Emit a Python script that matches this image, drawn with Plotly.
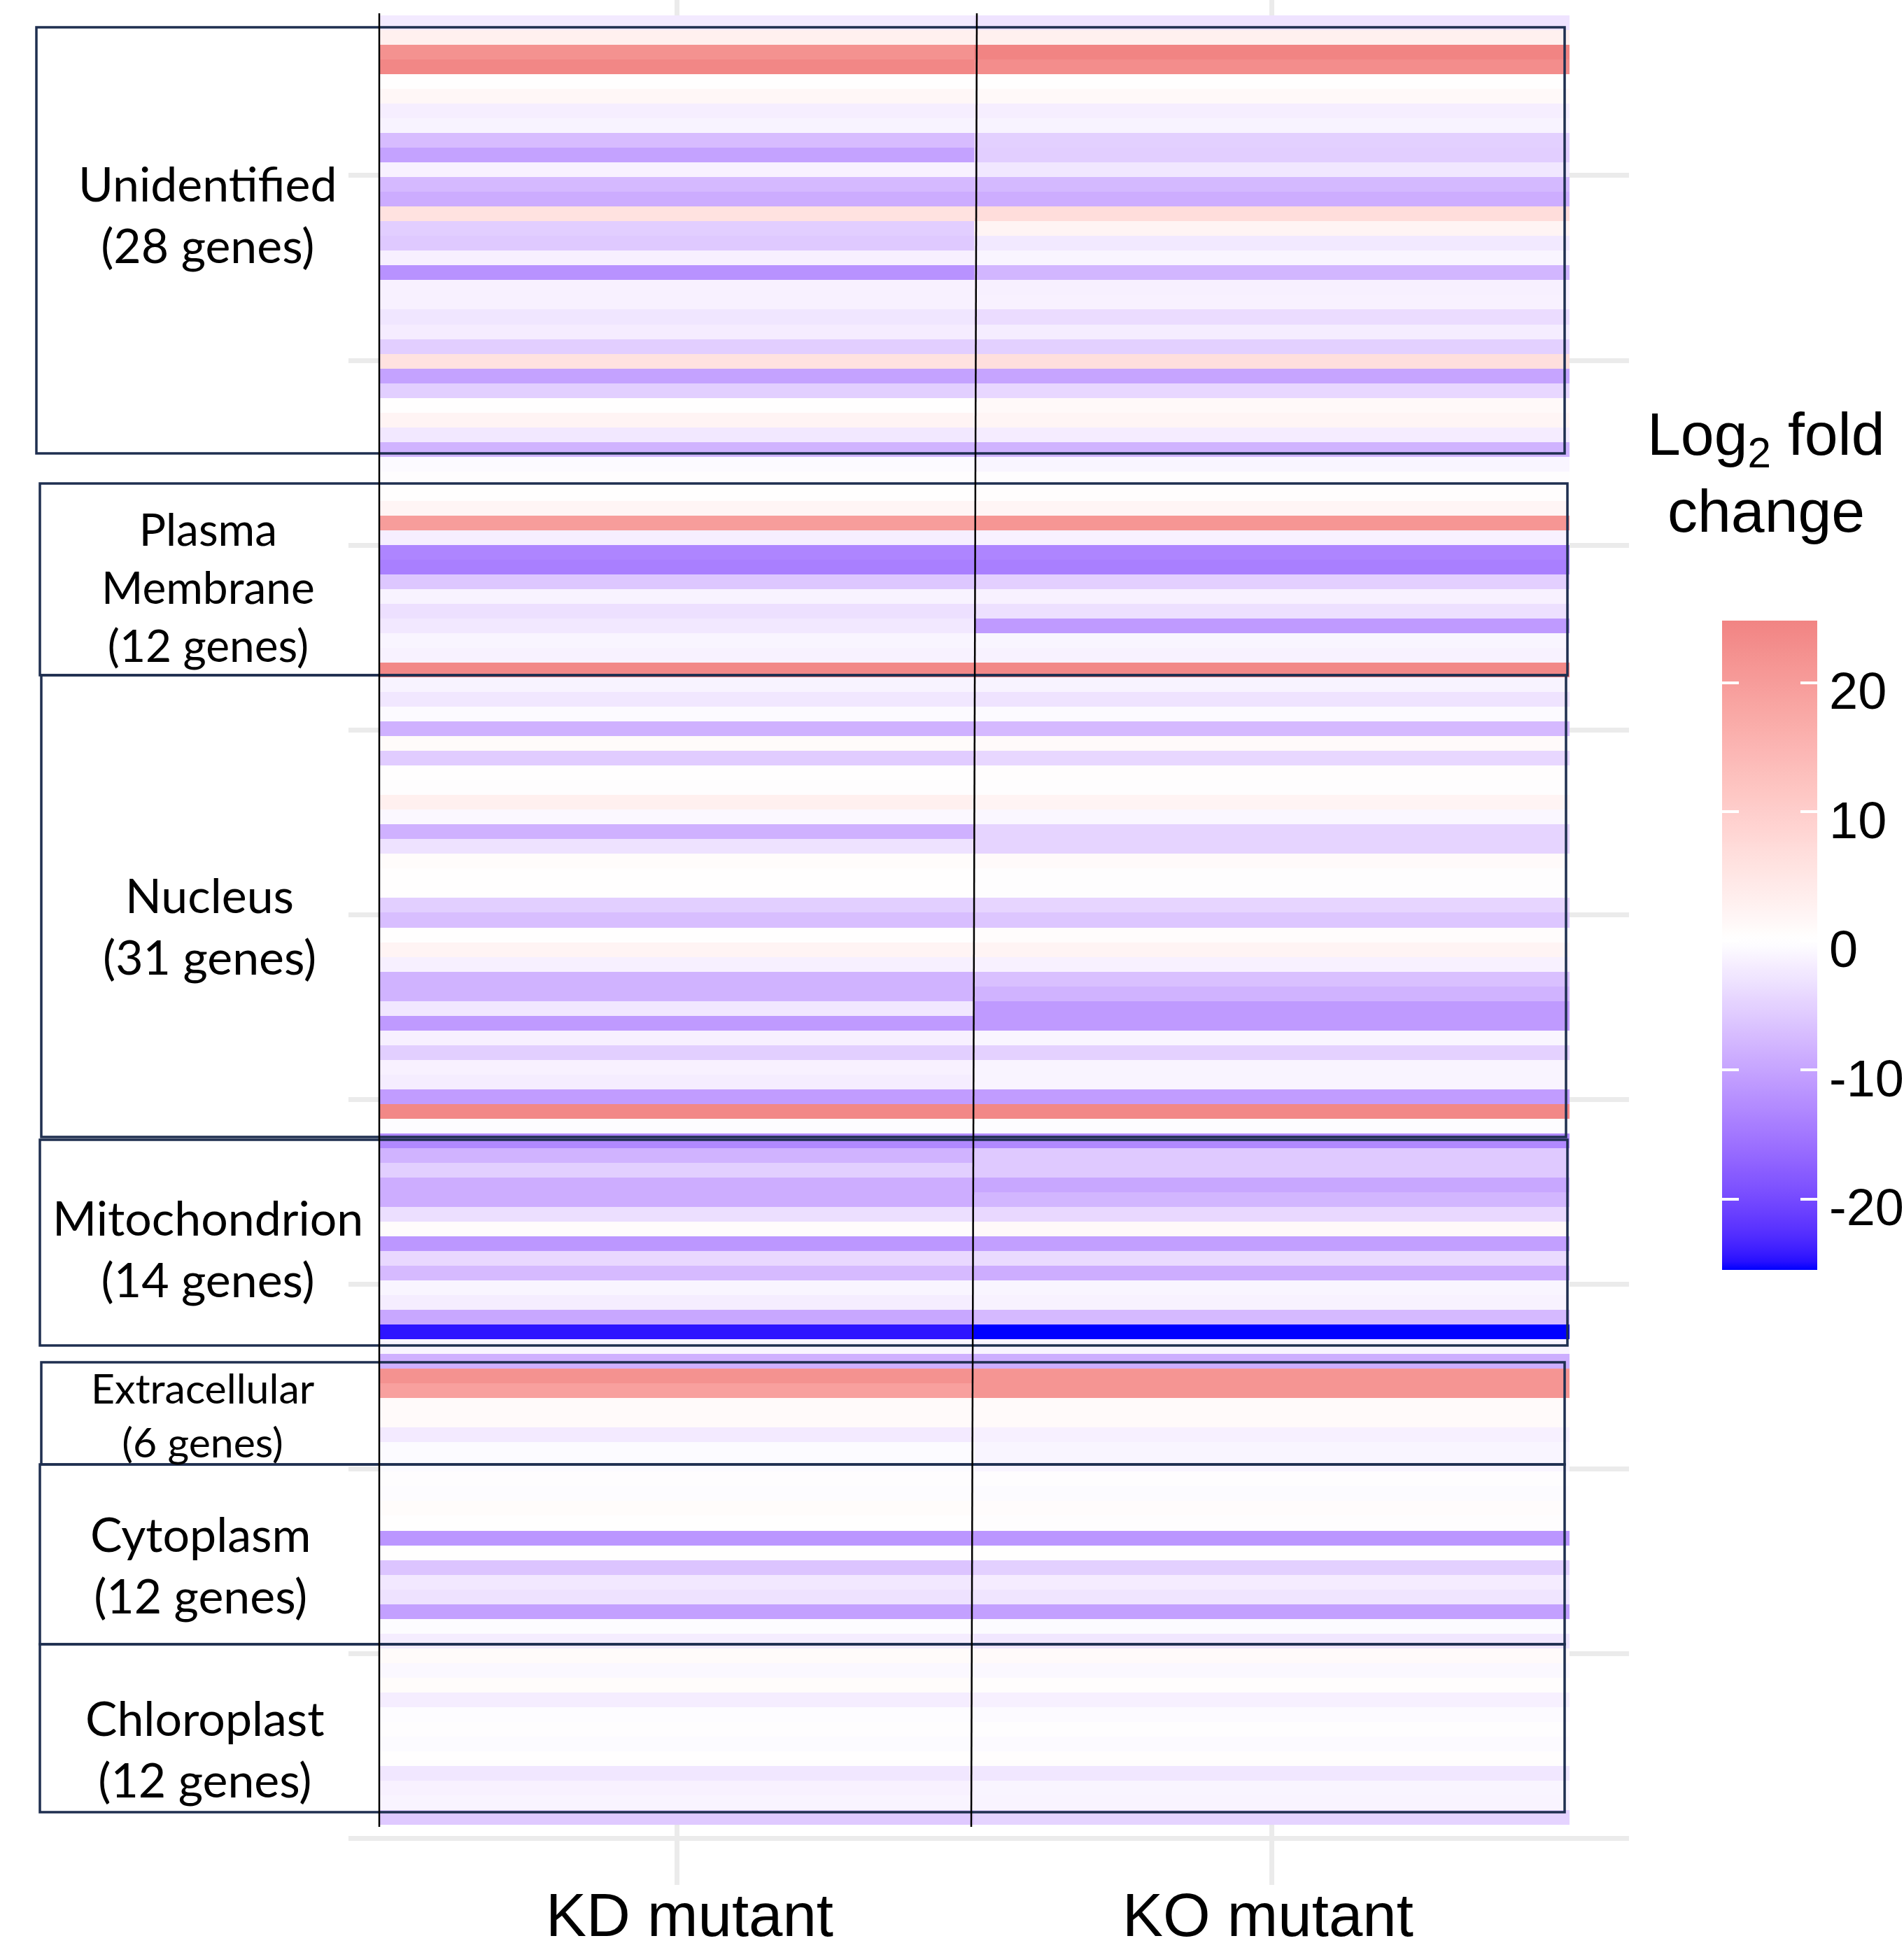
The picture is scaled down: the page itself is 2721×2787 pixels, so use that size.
import numpy as np
import plotly.graph_objects as go

# ---------------- data ----------------
conditions = ["KD mutant", "KO mutant"]

# log2 fold change per gene row (top to bottom of the heatmap)
kd_log2fc = [
    -2.2, 3.0, 22.0, 24.2, 0.3, 1.5, -1.8, -1.3, -7.3, -10.2,
    -1.5, -7.6, -9.0, 5.9, -5.4, -5.9, -1.6, -12.0, -1.5, -1.5,
    -2.8, -2.0, -5.4, 5.9, -10.2, -5.3, 0.3, 2.2, -2.5, -8.3,
    -0.6, 0.0, 0.3, 2.0, 19.8, -1.8, -13.4, -14.1, -6.1, -1.3,
    -3.4, -2.5, -1.1, -1.4, 24.0, -1.3, -2.6, -0.6, -8.5, 0.9,
    -5.6, 0.3, 0.1, 3.0, -0.8, -8.5, -3.2, 0.8, 0.2, 0.2,
    -5.3, -7.1, 0.3, 2.1, -1.6, -8.3, -8.3, -2.6, -11.1, -1.6,
    -5.3, -1.5, -1.9, -10.8, 24.0, -0.3, -13.0, -8.3, -5.3, -8.9,
    -8.9, -3.5, 0.6, -11.4, -4.2, -7.5, -1.1, -1.9, -9.6, -24.6,
    -1.1, -8.6, 22.0, 19.1, 1.0, 1.0, -2.2, -0.5, -0.5, 0.0,
    -0.4, 0.8, 0.2, -11.6, 0.3, -6.4, -2.5, -3.2, -10.4, -0.4,
    -1.9, 0.9, -0.8, 0.7, -1.9, -0.3, 0.1, -0.5, 0.2, -2.6,
    -1.5, -1.2, -5.9,
]
ko_log2fc = [
    -3.1, 3.0, 24.8, 23.0, 0.2, 1.2, -1.8, -1.3, -5.1, -5.4,
    -2.6, -7.7, -8.9, 7.0, 2.2, -2.4, -1.1, -8.0, -1.6, -1.5,
    -3.8, -1.9, -5.1, 6.6, -10.0, -4.3, 1.2, 2.0, -2.0, -8.3,
    -1.1, 0.0, 0.5, 2.0, 21.2, -1.5, -13.4, -14.1, -5.2, -1.5,
    -3.4, -11.1, -1.1, -1.4, 24.0, -1.3, -3.1, -0.6, -7.6, 1.0,
    -4.3, 0.5, 0.0, 2.2, -0.9, -4.6, -4.6, 1.0, 0.1, 0.1,
    -4.5, -6.2, 0.6, 2.2, -1.5, -6.8, -8.3, -11.1, -11.1, -1.1,
    -5.0, -1.2, -1.2, -10.8, 24.0, -0.2, -13.0, -5.9, -5.9, -9.7,
    -8.0, -4.2, 1.2, -10.5, -3.9, -8.9, -1.1, -1.4, -7.6, -25.5,
    -1.2, -8.8, 21.5, 21.5, 1.0, 1.0, -1.6, -1.1, -1.1, 0.0,
    -0.5, 0.6, 0.1, -11.6, 0.3, -5.1, -2.0, -2.9, -10.4, -0.5,
    -2.6, 1.0, -0.8, 0.5, -1.6, -0.6, 0.0, -0.6, 0.4, -2.6,
    -1.1, -1.2, -4.7,
]

group_names = ["Unidentified", "Plasma<br>Membrane", "Nucleus", "Mitochondrion",
               "Extracellular", "Cytoplasm", "Chloroplast"]
gene_counts = [28, 12, 31, 14, 6, 12, 12]

colorbar_ticks = [-20, -10, 0, 10, 20]
colorbar_ticktext = ["-20", "-10", "0", "10", "20"]
colorbar_title = ["Log<sub>2</sub> fold", "change"]

# ---------------- layout geometry (pixels) ----------------
W, H = 2721, 2787
ML, MR, MT, MB = 498, 393, 0, 93
PW, PH = W - ML - MR, H - MT - MB


def px_x(px):
    return (px - ML) / PW


def px_y(py):
    return 1 - (py - MT) / PH


# boxes drawn around each localisation group: (x0, y0, x1, y1) in px
group_boxes = [
    (52, 39, 2236, 648),
    (57, 691, 2240, 965),
    (59, 965, 2238, 1625),
    (57, 1629, 2240, 1923),
    (59, 1947, 2236, 2093),
    (57, 2093, 2236, 2350),
    (57, 2350, 2236, 2590),
]
label_pos = [(297, 305), (297, 839), (299, 1323), (297, 1783),
             (290, 2022), (286, 2235), (293, 2498)]
label_size = [68, 64, 68, 68, 59, 68, 68]
xlabel_shift = [18, -6]

# ---------------- colour scale (Lab interpolation like ggplot) ----------------


def _lin(c):
    c = c / 255
    return c / 12.92 if c <= 0.04045 else ((c + 0.055) / 1.055) ** 2.4


def _gam(c):
    c = min(max(c, 0.0), 1.0)
    return 12.92 * c if c <= 0.0031308 else 1.055 * c ** (1 / 2.4) - 0.055


def hex_to_lab(h):
    r, g, b = [_lin(int(h[i:i + 2], 16)) for i in (1, 3, 5)]
    X = 0.4124 * r + 0.3576 * g + 0.1805 * b
    Y = 0.2126 * r + 0.7152 * g + 0.0722 * b
    Z = 0.0193 * r + 0.1192 * g + 0.9505 * b

    def f(t):
        return t ** (1 / 3) if t > 216 / 24389 else (24389 / 27 * t + 16) / 116
    fx, fy, fz = f(X / 0.95047), f(Y / 1.0), f(Z / 1.08883)
    return (116 * fy - 16, 500 * (fx - fy), 200 * (fy - fz))


def lab_to_hex(L, a, b):
    fy = (L + 16) / 116
    fx = fy + a / 500
    fz = fy - b / 200

    def finv(t):
        return t ** 3 if t ** 3 > 216 / 24389 else (116 * t - 16) / (24389 / 27)
    X = 0.95047 * finv(fx)
    Y = finv(fy)
    Z = 1.08883 * finv(fz)
    r = 3.2406 * X - 1.5372 * Y - 0.4986 * Z
    g = -0.9689 * X + 1.8758 * Y + 0.0415 * Z
    bb = 0.0557 * X - 0.2040 * Y + 1.0570 * Z
    return "#%02x%02x%02x" % tuple(int(round(_gam(c) * 255)) for c in (r, g, bb))


low_lab, mid_lab, high_lab = hex_to_lab("#0000FF"), hex_to_lab("#FFFFFF"), hex_to_lab("#F08080")
allv = kd_log2fc + ko_log2fc
zmin, zmax = min(allv), max(allv)
half = max(abs(zmin), abs(zmax))
colorscale = []
for p in np.linspace(0, 1, 81):
    v = zmin + p * (zmax - zmin)
    s = 0.5 + v / (2 * half)
    if s <= 0.5:
        c1, c2, f = low_lab, mid_lab, s / 0.5
    else:
        c1, c2, f = mid_lab, high_lab, (s - 0.5) / 0.5
    lab = [c1[k] + (c2[k] - c1[k]) * f for k in range(3)]
    colorscale.append([float(p), lab_to_hex(*lab)])

# ---------------- figure ----------------
rows = list(range(1, len(kd_log2fc) + 1))
z = [[a, b] for a, b in zip(kd_log2fc, ko_log2fc)]

CB_TOP, CB_BOT = 887, 1815
CB_LEN = CB_BOT - CB_TOP
cb_common = dict(len=CB_LEN, lenmode="pixels", y=px_y((CB_TOP + CB_BOT) / 2), yanchor="middle",
                 ypad=0, xpad=0, xanchor="left", outlinewidth=0, showticklabels=False,
                 tickmode="array", tickvals=colorbar_ticks, ticks="inside", ticklen=24,
                 tickwidth=4, tickcolor="white", title=dict(text=""))

fig = go.Figure()
# main heatmap with the right part of the colour bar
fig.add_trace(go.Heatmap(
    z=z, x=conditions, y=rows, colorscale=colorscale, zmin=zmin, zmax=zmax,
    hoverinfo="skip",
    colorbar=dict(**cb_common, x=px_x(2484), thickness=113),
))
# identical heatmap supplying the left strip of the colour bar (left tick marks)
fig.add_trace(go.Heatmap(
    z=z, x=conditions, y=rows, colorscale=colorscale, zmin=zmin, zmax=zmax,
    hoverinfo="skip",
    colorbar=dict(**cb_common, x=px_x(2461), thickness=24),
))

shapes = []
for (x0, y0, x1, y1) in group_boxes:
    shapes.append(dict(type="rect", xref="paper", yref="paper",
                       x0=px_x(x0), x1=px_x(x1), y0=px_y(y0), y1=px_y(y1),
                       line=dict(color="#1F2F50", width=3.5), fillcolor="rgba(0,0,0,0)",
                       layer="above"))
# hand drawn separators: heatmap left edge and column divider
shapes.append(dict(type="line", xref="paper", yref="paper", x0=px_x(542), x1=px_x(542),
                   y0=px_y(19), y1=px_y(2611), line=dict(color="black", width=2.5), layer="above"))
shapes.append(dict(type="line", xref="paper", yref="paper", x0=px_x(1396), x1=px_x(1388),
                   y0=px_y(19), y1=px_y(2611), line=dict(color="black", width=2.5), layer="above"))

annotations = []
for name, n, (lx, ly), fs in zip(group_names, gene_counts, label_pos, label_size):
    annotations.append(dict(text=f"{name}<br>({n} genes)", xref="paper", yref="paper",
                            x=px_x(lx), y=px_y(ly), xanchor="center", yanchor="middle",
                            showarrow=False, align="center",
                            font=dict(family="Lato", size=fs, color="black")))
for txt, ty in zip(colorbar_title, [626, 730]):
    annotations.append(dict(text=txt, xref="paper", yref="paper", x=px_x(2524), y=px_y(ty),
                            xanchor="center", yanchor="middle", showarrow=False,
                            font=dict(family="Liberation Sans, Arial", size=86, color="black")))
# colour bar tick labels, placed through the colour bar's value scale
for v, t in zip(colorbar_ticks, colorbar_ticktext):
    py = CB_TOP + (zmax - v) / (zmax - zmin) * CB_LEN
    annotations.append(dict(text=t, xref="paper", yref="paper", x=px_x(2612), y=px_y(py),
                            xanchor="left", yanchor="middle", yshift=-12, showarrow=False,
                            font=dict(family="Liberation Sans, Arial", size=74, color="black")))
# x category labels
for c, dx in zip(conditions, xlabel_shift):
    annotations.append(dict(text=c, xref="x", yref="paper", x=c, y=px_y(2787),
                            xanchor="center", yanchor="bottom", xshift=dx, showarrow=False,
                            font=dict(family="Liberation Sans, Arial", size=87, color="black")))

fig.update_layout(
    template="none",
    width=W, height=H,
    margin=dict(l=ML, r=MR, t=MT, b=MB, pad=0, autoexpand=False),
    paper_bgcolor="white", plot_bgcolor="white",
    shapes=shapes, annotations=annotations,
    xaxis=dict(type="category", range=[-0.5517, 1.6], showgrid=True, gridcolor="#EBEBEB",
               gridwidth=7, zeroline=False, showline=False, ticks="", showticklabels=False,
               automargin=False),
    yaxis=dict(range=[127.59, -0.547], tickmode="linear", tick0=11.39, dtick=12.559,
               showticklabels=False, showgrid=True, gridcolor="#EBEBEB", gridwidth=7,
               zeroline=False, showline=False, ticks="", automargin=False),
    font=dict(family="Liberation Sans, Arial"),
)

fig.write_html("out.html", config={"displayModeBar": False},
               post_script="document.body.style.margin='0';document.body.style.padding='0';")
